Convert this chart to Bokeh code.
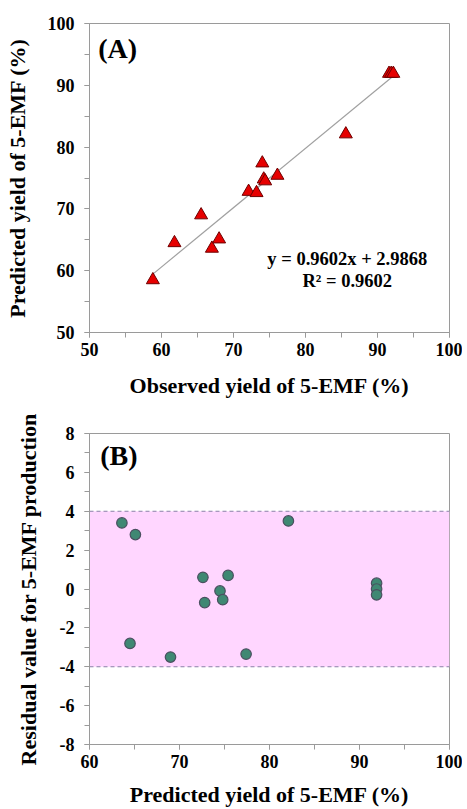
from bokeh.plotting import figure
from bokeh.layouts import column
from bokeh.models import Range1d, SingleIntervalTicker, Label, PrintfTickFormatter
from bokeh.embed import file_html
from bokeh.resources import INLINE
from bokeh.core.properties import value

# ---- Panel A data: observed vs predicted yield (%)
observed = [58.8, 61.8, 65.5, 67.0, 68.0, 72.1, 73.2, 74.0, 74.2, 74.4, 76.1, 85.6, 91.6, 91.9, 92.2]
predicted = [58.5, 64.5, 69.0, 63.6, 65.1, 72.8, 72.6, 77.4, 74.8, 74.5, 75.4, 82.1, 91.9, 91.9, 91.9]
fit_slope = 0.9602
fit_intercept = 2.9868
eq_lines = ["y = 0.9602x + 2.9868", "R\u00b2 = 0.9602"]

# ---- Panel B data: residuals vs predicted yield
res_pred = [63.6, 65.1, 64.5, 69.0, 72.6, 72.8, 74.5, 74.8, 75.4, 77.4, 82.1, 91.9, 91.9, 91.9]
residual = [3.4, 2.8, -2.8, -3.5, 0.6, -0.7, -0.1, -0.55, 0.7, -3.35, 3.5, 0.3, 0.0, -0.3]
band_low, band_high = -4, 4

FONT = "Liberation Serif"
AXIS_GRAY = "#9a9a9a"


def style(p, x_label_standoff, y_label_standoff):
    p.outline_line_color = AXIS_GRAY
    p.outline_line_width = 1
    p.xgrid.visible = False
    p.ygrid.visible = False
    p.background_fill_color = "white"
    p.border_fill_color = "white"
    for ax in (p.xaxis[0], p.yaxis[0]):
        ax.formatter = PrintfTickFormatter(format="%d")
        ax.axis_line_color = AXIS_GRAY
        ax.major_tick_line_color = AXIS_GRAY
        ax.minor_tick_line_color = AXIS_GRAY
        ax.major_tick_in = 0
        ax.major_tick_out = 5
        ax.minor_tick_in = 0
        ax.minor_tick_out = 5
        ax.major_label_text_font = FONT
        ax.major_label_text_font_style = "bold"
        ax.major_label_text_font_size = "18px"
        ax.major_label_text_color = "black"
        ax.axis_label_text_font = FONT
        ax.axis_label_text_font_style = "bold"
        ax.axis_label_text_font_size = "22px"
        ax.axis_label_text_color = "black"
    p.xaxis[0].major_label_standoff = 5
    p.xaxis[0].axis_label_standoff = x_label_standoff
    p.yaxis[0].major_label_standoff = 10
    p.yaxis[0].axis_label_standoff = y_label_standoff


# ---------------- Panel A ----------------
pa = figure(width=462, height=400, output_backend="svg", toolbar_location=None,
            x_range=Range1d(50, 100), y_range=Range1d(50, 100),
            min_border_left=87, min_border_right=13, min_border_top=23, min_border_bottom=67)
pa.xaxis.axis_label = "Observed yield of 5-EMF (%)"
pa.yaxis.axis_label = "Predicted yield of 5-EMF (%)"
pa.xaxis.ticker = SingleIntervalTicker(interval=10, num_minor_ticks=2)
pa.yaxis.ticker = SingleIntervalTicker(interval=10, num_minor_ticks=2)
style(pa, 14, 15)

x0, x1 = min(observed), max(observed)
pa.line([x0, x1], [fit_slope * x0 + fit_intercept, fit_slope * x1 + fit_intercept],
        line_color="#a0a0a0", line_width=1.2)
pa.scatter(observed, predicted, marker="triangle", size=13,
           fill_color="#e60000", line_color="#6e0000", line_width=1)

pa.text(x=[85.8, 85.8], y=[61.9, 58.4], text=eq_lines,
        text_font=value(FONT), text_font_style="bold", text_font_size="18.5px",
        text_align="center", text_baseline="middle", text_color="black")
pa.add_layout(Label(x=51.2, y=96.0, text="(A)", text_font=FONT, text_font_style="bold",
                    text_font_size="28px", text_baseline="middle", text_align="left",
                    text_color="black"))

# ---------------- Panel B ----------------
pb = figure(width=462, height=409, output_backend="svg", toolbar_location=None,
            x_range=Range1d(60, 100), y_range=Range1d(-8, 8),
            min_border_left=89, min_border_right=10, min_border_top=33, min_border_bottom=61)
pb.xaxis.axis_label = "Predicted yield of 5-EMF (%)"
pb.yaxis.axis_label = "Residual value for 5-EMF production"
pb.xaxis.ticker = SingleIntervalTicker(interval=10, num_minor_ticks=2)
pb.yaxis.ticker = SingleIntervalTicker(interval=2, num_minor_ticks=2)
style(pb, 11, 16)

pb.quad(left=[60], right=[100], bottom=[band_low], top=[band_high],
        fill_color="#ffd6ff", line_color=None)
pb.line([60, 100], [band_high, band_high], line_color="#8a80a8", line_dash="4 3", line_width=1.2)
pb.line([60, 100], [band_low, band_low], line_color="#8a80a8", line_dash="4 3", line_width=1.2)
pb.scatter(res_pred, residual, marker="circle", size=10.5,
           fill_color="#3f8873", line_color="#4a5060", line_width=1.2)
pb.add_layout(Label(x=61.2, y=6.85, text="(B)", text_font=FONT, text_font_style="bold",
                    text_font_size="28px", text_baseline="middle", text_align="left",
                    text_color="black"))

layout = column(pa, pb)
open("out.html", "w").write(file_html(layout, INLINE))
